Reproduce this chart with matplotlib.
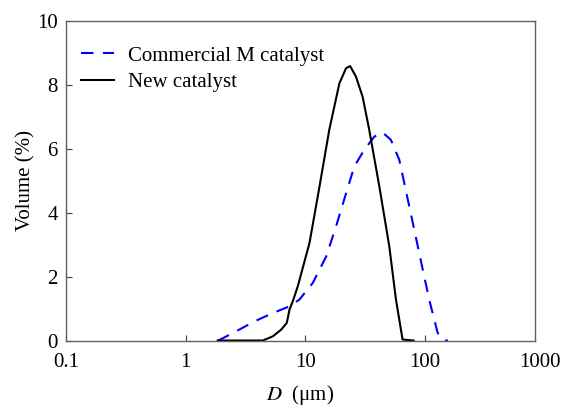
import matplotlib
matplotlib.use("Agg")
import matplotlib.pyplot as plt
import matplotlib.transforms as mtransforms
import numpy as np

plt.rcParams['font.family'] = ['Liberation Serif', 'DejaVu Serif']
plt.rcParams['mathtext.fontset'] = 'stix'

# Commercial M catalyst (blue dashed)
comm_d = [1.85, 1.92, 2.64, 3.76, 5.34, 7.36, 8.9, 11.5, 14.9, 18.0, 21.8, 25.6, 31.0,
          37.6, 44.1, 51.7, 60.7, 73.6, 89.1, 108, 127, 144, 155]
comm_v = [0.0, 0.02, 0.29, 0.60, 0.86, 1.07, 1.28, 1.80, 2.63, 3.57, 4.60, 5.45, 5.97,
          6.38, 6.51, 6.28, 5.66, 4.20, 2.74, 1.28, 0.24, 0.0, 0.0]

# New catalyst (black solid)
new_d = [1.85, 4.4, 5.34, 6.27, 6.98, 7.36, 7.84, 8.63, 10.8, 13.1, 15.8, 19.2, 21.8,
         23.6, 26.4, 30.0, 34.1, 41.4, 50.1, 57.0, 64.7, 80.0]
new_v = [0.0, 0.0, 0.13, 0.34, 0.55, 0.97, 1.23, 1.70, 3.05, 4.82, 6.59, 8.05, 8.52,
         8.59, 8.26, 7.63, 6.59, 4.82, 2.95, 1.28, 0.03, 0.0]

# axis range (right edge of the frame sits short of 1000, where the label "1000" is placed)
x_min, x_max = 0.1, 826
xticks = [0.1, 1, 10, 100, x_max]
xtick_labels = ['0.1', '1', '10', '100', '1000']
yticks = [0, 2, 4, 6, 8, 10]

fig = plt.figure(figsize=(5.62, 4.08), dpi=100)
ax = fig.add_axes([66 / 562, (408 - 340.5) / 408, 469 / 562, 319.5 / 408])

ax.plot(comm_d, comm_v, color='#0000ff', linestyle=(0, (6, 4.5)), linewidth=1.5,
        label='Commercial M catalyst')
ax.plot(new_d, new_v, color='black', linestyle='-', linewidth=1.5, label='New catalyst')

ax.set_xscale('log')
ax.set_xlim(x_min, x_max)
ax.set_ylim(0, 10)
ax.set_xticks(xticks)
ax.set_xticklabels(xtick_labels)
ax.xaxis.set_minor_locator(matplotlib.ticker.NullLocator())
ax.set_yticks(yticks)

for s in ['top', 'right', 'left', 'bottom']:
    ax.spines[s].set_color('#606060')
    ax.spines[s].set_linewidth(1.0)
ax.tick_params(direction='in', length=4, width=0.8, color='#404040', labelsize=15,
               top=False, right=False)
ax.tick_params(axis='x', pad=9)
ax.tick_params(axis='y', pad=6)

# hide the tick mark at the frame edge and nudge its label right
xt = ax.xaxis.get_major_ticks()
xt[-1].tick1line.set_visible(False)
lbl = xt[-1].label1
lbl.set_transform(lbl.get_transform() + mtransforms.ScaledTranslation(5 / 100, 0, fig.dpi_scale_trans))

ax.set_xlabel(r'$D$  (μm)', fontsize=15, labelpad=8)
ax.set_ylabel('Volume (%)', fontsize=15, labelpad=1)

ax.legend(loc='upper left', bbox_to_anchor=(0.0143, 0.948), frameon=False, fontsize=15,
          handlelength=1.6, handletextpad=0.67, borderaxespad=0.0, borderpad=0.4,
          labelspacing=0.35)

fig.savefig('out.png', dpi=100)
